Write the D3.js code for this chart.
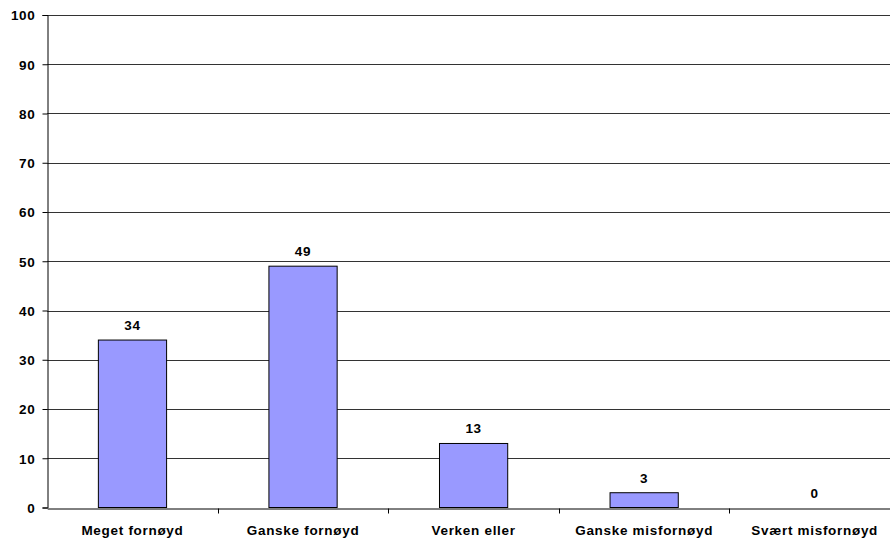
<!DOCTYPE html>
<html>
<head>
<meta charset="utf-8">
<script src="https://cdn.jsdelivr.net/npm/d3@7"></script>
<style>
  html, body { margin: 0; padding: 0; background: #fff; }
  svg { display: block; }
  text { font-family: Arial, "Liberation Sans", sans-serif; font-weight: bold; font-size: 13.5px; letter-spacing: 0.7px; fill: #000; }
</style>
</head>
<body>
<svg id="chart" width="890" height="539"></svg>
<script>
const categories = ["Meget fornøyd", "Ganske fornøyd", "Verken eller", "Ganske misfornøyd", "Svært misfornøyd"];
const values = [34, 49, 13, 3, 0];
const yTicks = [0, 10, 20, 30, 40, 50, 60, 70, 80, 90, 100];

const svg = d3.select("#chart");
const plotLeft = 47.2, plotRight = 900, plotTop = 15, plotBottom = 507.5;

const x = d3.scaleBand().domain(categories).range([plotLeft, plotRight]).paddingInner(0).paddingOuter(0);
const y = d3.scaleLinear().domain([0, 100]).range([plotBottom, plotTop]);

// horizontal gridlines
svg.append("g")
  .selectAll("line")
  .data(yTicks.filter(d => d > 0))
  .join("line")
  .attr("x1", plotLeft).attr("x2", plotRight)
  .attr("y1", d => Math.round(y(d)) + 0.5).attr("y2", d => Math.round(y(d)) + 0.5)
  .attr("stroke", "#333").attr("stroke-width", 1);

// bars
const barW = x.bandwidth() * 0.4;
svg.append("g")
  .selectAll("rect")
  .data(values)
  .join("rect")
  .attr("x", (d, i) => x(categories[i]) + (x.bandwidth() - barW) / 2)
  .attr("y", d => y(d))
  .attr("width", barW)
  .attr("height", d => y(0) - y(d))
  .attr("fill", "#9999FF")
  .attr("stroke", d => d > 0 ? "#000" : "none")
  .attr("stroke-width", 1);

// value labels
svg.append("g")
  .selectAll("text")
  .data(values)
  .join("text")
  .attr("x", (d, i) => x(categories[i]) + x.bandwidth() / 2)
  .attr("y", d => y(d) - 10)
  .attr("text-anchor", "middle")
  .text(d => d);

// y axis
const yAxis = svg.append("g")
  .attr("transform", `translate(${Math.round(plotLeft) + 0.5},0)`)
  .call(d3.axisLeft(y).tickValues(yTicks).tickSize(5).tickPadding(7).tickFormat(d3.format("d")));
yAxis.select(".domain").attr("stroke", "#000");
yAxis.selectAll(".tick line").attr("stroke", "#000");
yAxis.selectAll(".tick text").attr("font-family", null).attr("font-size", null)
  .style("font-size", "13.5px").style("font-weight", "bold").attr("dy", "0.36em");

// x axis
const xAxis = svg.append("g")
  .attr("transform", `translate(0,${Math.round(plotBottom) + 0.5})`)
  .call(d3.axisBottom(x).tickSize(0).tickPadding(0));
xAxis.select(".domain").attr("stroke", "#000");
xAxis.selectAll(".tick text").remove();
// category separators
xAxis.selectAll(".sep")
  .data(categories.slice(1))
  .join("line")
  .attr("class", "sep")
  .attr("x1", d => Math.round(x(d)) + 0.5).attr("x2", d => Math.round(x(d)) + 0.5)
  .attr("y1", 0).attr("y2", 5)
  .attr("stroke", "#000");

// category labels
svg.append("g")
  .selectAll("text")
  .data(categories)
  .join("text")
  .attr("x", d => x(d) + x.bandwidth() / 2)
  .attr("y", 535)
  .attr("text-anchor", "middle")
  .text(d => d);
</script>
</body>
</html>
